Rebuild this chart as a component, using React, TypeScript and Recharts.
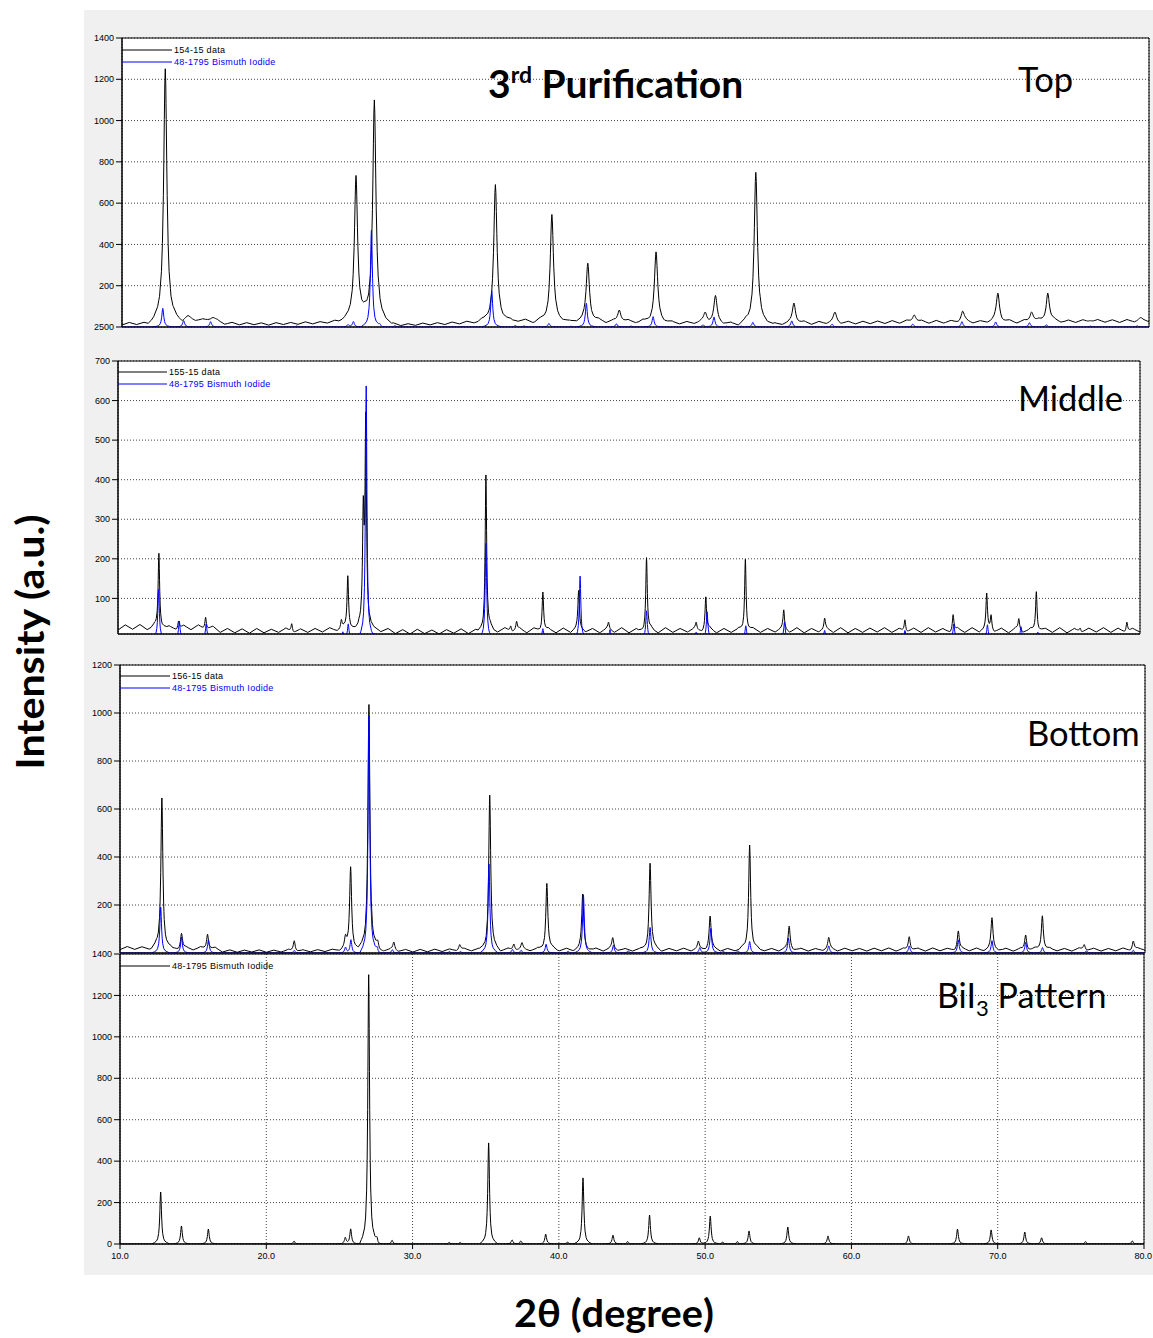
import React from "react";
import { LineChart, Line, XAxis, YAxis, CartesianGrid, ReferenceArea } from "recharts";

// Baseline counts sampled every 0.5° of 2θ, from 10.0° to 80.0° (one row = 5°)
const BASE_START = 10;
const BASE_STEP = 0.5;

const TOP_BASELINE = [
  10, 22, 12, 23, 14, 26, 18, 28, 20, 31,
  25, 36, 27, 30, 12, 22, 10, 21, 11, 20,
  9, 21, 12, 22, 13, 25, 15, 26, 19, 33,
  27, 40, 33, 44, 35, 34, 16, 20, 7, 16,
  8, 19, 10, 21, 12, 24, 15, 28, 20, 33,
  26, 36, 25, 37, 28, 38, 22, 34, 23, 33,
  21, 34, 22, 33, 24, 35, 21, 33, 22, 34,
  21, 32, 20, 31, 16, 28, 15, 27, 16, 28,
  17, 26, 12, 23, 10, 22, 11, 23, 9, 21,
  10, 22, 14, 26, 13, 27, 15, 28, 14, 27,
  15, 28, 16, 29, 17, 31, 18, 32, 19, 31,
  18, 32, 19, 31, 20, 32, 18, 31, 19, 33,
  20, 32, 19, 33, 21, 34, 20, 35, 21, 34,
  22, 35, 21, 36, 23, 35, 22, 36, 24, 38,
  25,
];

const MIDDLE_BASELINE = [
  20, 33, 22, 34, 21, 32, 24, 31, 20, 32,
  21, 33, 19, 30, 14, 24, 13, 23, 12, 24,
  13, 22, 14, 25, 12, 23, 14, 24, 15, 26,
  18, 28, 24, 32, 26, 30, 16, 24, 11, 21,
  10, 22, 11, 20, 10, 21, 12, 23, 11, 22,
  16, 27, 15, 26, 14, 25, 13, 26, 14, 24,
  13, 25, 14, 26, 15, 24, 13, 25, 14, 26,
  13, 24, 14, 25, 13, 26, 14, 24, 15, 25,
  14, 26, 13, 24, 14, 25, 13, 26, 14, 24,
  15, 25, 14, 26, 13, 24, 15, 25, 14, 26,
  13, 24, 14, 25, 15, 26, 14, 24, 13, 25,
  14, 26, 15, 24, 13, 25, 14, 26, 15, 24,
  14, 25, 13, 26, 14, 24, 15, 25, 14, 26,
  13, 24, 14, 25, 15, 26, 14, 25, 13, 24,
  15,
];

const BOTTOM_BASELINE = [
  14, 27, 15, 26, 16, 28, 13, 25, 12, 24,
  13, 25, 12, 23, 4, 13, 3, 12, 4, 13,
  3, 12, 4, 14, 3, 13, 5, 14, 6, 16,
  10, 20, 14, 22, 12, 18, 8, 17, 5, 15,
  4, 15, 5, 16, 6, 17, 8, 19, 9, 20,
  8, 19, 9, 20, 8, 19, 9, 21, 8, 20,
  9, 20, 8, 19, 9, 21, 8, 20, 9, 19,
  8, 20, 9, 21, 8, 19, 9, 20, 8, 21,
  9, 20, 8, 19, 9, 21, 8, 20, 9, 19,
  8, 21, 9, 20, 8, 19, 9, 21, 8, 20,
  9, 19, 8, 20, 9, 21, 8, 19, 9, 20,
  8, 21, 9, 20, 8, 19, 9, 21, 8, 20,
  9, 20, 8, 19, 9, 21, 8, 20, 9, 19,
  8, 21, 9, 20, 8, 19, 9, 21, 8, 20,
  12,
];

// Peaks: [2θ, peak intensity] or [2θ, peak intensity, half width]
type Peak = number[];

const TOP_PEAKS: Peak[] = [
  [12.95, 1250], [14.5, 55, 0.3], [16.2, 45, 0.25], [25.95, 734], [27.2, 1100],
  [35.45, 690], [39.3, 545], [41.75, 309], [43.9, 82], [46.4, 364],
  [49.75, 68], [50.45, 151], [53.2, 749], [55.8, 116], [58.6, 72],
  [64.0, 58], [67.3, 77], [69.7, 164], [72.0, 72], [73.1, 164],
  [76.0, 30], [79.4, 45],
];

const MIDDLE_PEAKS: Peak[] = [
  [12.8, 214], [14.15, 43], [16.0, 52], [21.9, 36], [25.3, 45],
  [25.74, 157], [26.8, 300], [26.97, 540], [35.2, 412], [36.9, 30],
  [37.3, 42], [39.1, 116], [41.55, 120], [43.6, 40], [46.2, 203],
  [49.6, 40], [50.26, 104], [52.97, 199], [55.6, 71], [58.4, 50],
  [63.9, 46], [67.2, 59], [69.5, 112], [69.8, 55], [71.7, 49],
  [72.9, 117], [75.9, 25], [79.1, 40],
];

const BOTTOM_PEAKS: Peak[] = [
  [12.86, 646], [14.2, 82], [15.98, 78], [21.9, 51], [25.4, 60],
  [25.75, 357], [27.0, 1035], [27.6, 40], [28.7, 46], [33.2, 35],
  [35.25, 658], [36.9, 37], [37.45, 43], [39.15, 290], [41.6, 246],
  [43.65, 64], [46.2, 374], [49.5, 50], [50.3, 154], [53.0, 450],
  [55.7, 112], [58.4, 65], [63.9, 68], [67.25, 92], [69.55, 147],
  [71.85, 75], [72.99, 155], [75.85, 35], [79.2, 50],
];

// 48-1795 Bismuth Iodide reference pattern
const BII3_PEAKS: Peak[] = [
  [12.78, 251], [14.2, 87], [16.04, 72], [21.9, 14], [25.4, 30],
  [25.77, 72], [27.0, 1300], [27.57, 25], [28.6, 18], [32.5, 8],
  [33.25, 8], [35.2, 488], [36.8, 20], [37.4, 15], [39.1, 48],
  [40.6, 10], [41.65, 319], [43.7, 43], [44.7, 12], [46.2, 140],
  [49.6, 30], [50.35, 135], [51.2, 10], [52.2, 12], [53.0, 63],
  [55.65, 82], [58.4, 39], [63.9, 39], [67.25, 72], [69.55, 68],
  [71.85, 58], [73.0, 30], [76.0, 12], [79.2, 15],
];

// Overlay factor of the reference pattern in each measured panel
const REF_SCALE_TOP = 0.36;
const REF_SCALE_MIDDLE = 0.49;
const REF_SCALE_BOTTOM = 0.76;

const X_TICKS = [10, 20, 30, 40, 50, 60, 70, 80];
const TOP_Y_TICKS = [0, 200, 400, 600, 800, 1000, 1200, 1400];
const MIDDLE_Y_TICKS = [100, 200, 300, 400, 500, 600, 700];
const BOTTOM_Y_TICKS = [200, 400, 600, 800, 1000, 1200];
const PATTERN_Y_TICKS = [0, 200, 400, 600, 800, 1000, 1200, 1400];

const SAMPLE_NAMES = ["154-15 data", "155-15 data", "156-15 data"];
const REFERENCE_NAME = "48-1795 Bismuth Iodide";

// ---- peak line shape (fraction of peak height vs distance in half widths)
const SHAPE_T = [0, 0.25, 0.5, 0.75, 1, 1.5, 2, 3, 4, 6, 9];
const SHAPE_F = [1, 0.94, 0.8, 0.64, 0.5, 0.31, 0.2, 0.1, 0.06, 0.027, 0];

function shapeAt(t: number) {
  const a = Math.abs(t);
  if (a >= SHAPE_T[SHAPE_T.length - 1]) return 0;
  for (let k = 0; k < SHAPE_T.length - 1; k++) {
    if (a >= SHAPE_T[k] && a < SHAPE_T[k + 1]) {
      const f = (a - SHAPE_T[k]) / (SHAPE_T[k + 1] - SHAPE_T[k]);
      return SHAPE_F[k] + f * (SHAPE_F[k + 1] - SHAPE_F[k]);
    }
  }
  return 0;
}

function baseAt(base: number[] | null, x: number) {
  if (!base) return 0;
  const i = (x - BASE_START) / BASE_STEP;
  const k = Math.max(0, Math.min(Math.floor(i), base.length - 2));
  const f = i - k;
  return base[k] + f * (base[k + 1] - base[k]);
}

function buildTrace(base: number[] | null, peaks: Peak[], halfWidth: number, scale = 1) {
  const xs = new Set<number>();
  const n = base ? base.length : 141;
  for (let i = 0; i < n; i++) xs.add(+(BASE_START + i * BASE_STEP).toFixed(3));
  peaks.forEach((p) => {
    const w = p[2] ?? halfWidth;
    SHAPE_T.forEach((t) => {
      [p[0] - t * w, p[0] + t * w].forEach((x) => {
        if (x >= 10 && x <= 80) xs.add(+x.toFixed(4));
      });
    });
  });
  const sorted = Array.from(xs).sort((a, b) => a - b);
  return sorted.map((x) => {
    let y = baseAt(base, x);
    peaks.forEach((p) => {
      const w = p[2] ?? halfWidth;
      const amp = p[1] * scale - baseAt(base, p[0]);
      y += amp * shapeAt((x - p[0]) / w);
    });
    return { x, y };
  });
}

const topBlack = buildTrace(TOP_BASELINE, TOP_PEAKS, 0.13);
const topBlue = buildTrace(null, BII3_PEAKS, 0.08, REF_SCALE_TOP);
const middleBlack = buildTrace(MIDDLE_BASELINE, MIDDLE_PEAKS, 0.06);
const middleBlue = buildTrace(null, BII3_PEAKS, 0.06, REF_SCALE_MIDDLE);
const bottomBlack = buildTrace(BOTTOM_BASELINE, BOTTOM_PEAKS, 0.08);
const bottomBlue = buildTrace(null, BII3_PEAKS, 0.07, REF_SCALE_BOTTOM);
const patternBlack = buildTrace(null, BII3_PEAKS, 0.07);

const BLACK = "#000000";
const BLUE = "#0000ff";
const SMALL_FONT = "'Liberation Sans', Arial, sans-serif";
const TITLE_FONT = "Lato, 'Open Sans', sans-serif";

type Series = { data: { x: number; y: number }[]; color: string };
type Rect = { left: number; top: number; width: number; height: number };

// x tick label; the last one is right-aligned so it stays inside the figure
function XTick(props: any) {
  const { x, y, payload } = props;
  const last = payload.value === X_TICKS[X_TICKS.length - 1];
  return (
    <text
      x={last ? x + 8 : x}
      y={y}
      dy="0.71em"
      textAnchor={last ? "end" : "middle"}
      fontSize={9}
      fill={BLACK}
      fontFamily={SMALL_FONT}
    >
      {Number(payload.value).toFixed(1)}
    </text>
  );
}

function Panel(props: {
  rect: Rect;
  yDomain: [number, number];
  yTicks: number[];
  series: Series[];
  xLabels?: boolean;
  yFormat?: (v: number) => string;
}) {
  const { rect, yDomain, yTicks, series, xLabels, yFormat } = props;
  const yW = 40;
  const mTop = 6;
  const mRight = xLabels ? 9 : 3;
  const mBottom = xLabels ? 0 : 6;
  const xH = xLabels ? 22 : 1;
  return (
    <div style={{ position: "absolute", left: rect.left - yW, top: rect.top - mTop }}>
      <LineChart
        width={yW + rect.width + mRight}
        height={mTop + rect.height + xH + mBottom}
        margin={{ top: mTop, right: mRight, bottom: mBottom, left: 0 }}
      >
        <CartesianGrid fill="#ffffff" stroke="#444" strokeDasharray="1 2" />
        <XAxis
          type="number"
          dataKey="x"
          domain={[10, 80]}
          ticks={X_TICKS}
          interval={0}
          allowDataOverflow
          height={xH}
          axisLine={{ stroke: BLACK }}
          tickLine={xLabels ? { stroke: BLACK } : false}
          tickSize={5}
          tickMargin={4}
          tick={xLabels ? <XTick /> : false}
        />
        <YAxis
          type="number"
          domain={yDomain}
          ticks={yTicks}
          interval={0}
          allowDataOverflow
          width={yW}
          axisLine={{ stroke: BLACK }}
          tickLine={{ stroke: BLACK }}
          tickSize={6}
          tickMargin={2}
          tick={{ fontSize: 9, fill: BLACK, fontFamily: SMALL_FONT }}
          tickFormatter={yFormat ?? ((v: number) => String(v))}
        />
        <ReferenceArea
          x1={10}
          x2={80}
          y1={yDomain[0]}
          y2={yDomain[1]}
          fill="none"
          stroke={BLACK}
          strokeWidth={1}
          ifOverflow="visible"
        />
        {series.map((s, i) => (
          <Line
            key={i}
            data={s.data}
            dataKey="y"
            type="linear"
            stroke={s.color}
            strokeWidth={1}
            dot={false}
            activeDot={false}
            isAnimationActive={false}
          />
        ))}
      </LineChart>
    </div>
  );
}

function LegendEntry(props: { x1: number; x2: number; y: number; color: string; label: string }) {
  const { x1, x2, y, color, label } = props;
  return (
    <g>
      <line x1={x1} x2={x2} y1={y} y2={y} stroke={color} strokeWidth={1} />
      <text
        x={x2 + 2}
        y={y + 3}
        fontSize={9}
        letterSpacing={0.3}
        fill={color}
        fontFamily={SMALL_FONT}
      >
        {label}
      </text>
    </g>
  );
}

export default function App() {
  return (
    <div
      style={{
        position: "absolute",
        left: 0,
        top: 0,
        width: 1153,
        height: 1338,
        overflow: "hidden",
        background: "#ffffff",
      }}
    >
      <div
        style={{
          position: "absolute",
          left: 84,
          top: 10,
          width: 1069,
          height: 1265,
          background: "#f0f0f0",
        }}
      />

      <Panel
        rect={{ left: 122, top: 38, width: 1027, height: 289 }}
        yDomain={[0, 1400]}
        yTicks={TOP_Y_TICKS}
        yFormat={(v: number) => (v === 0 ? "2500" : String(v))}
        series={[
          { data: topBlack, color: BLACK },
          { data: topBlue, color: BLUE },
        ]}
      />
      <Panel
        rect={{ left: 118, top: 361, width: 1022, height: 273 }}
        yDomain={[10, 700]}
        yTicks={MIDDLE_Y_TICKS}
        series={[
          { data: middleBlack, color: BLACK },
          { data: middleBlue, color: BLUE },
        ]}
      />
      <Panel
        rect={{ left: 120, top: 665, width: 1025, height: 288 }}
        yDomain={[0, 1200]}
        yTicks={BOTTOM_Y_TICKS}
        series={[
          { data: bottomBlack, color: BLACK },
          { data: bottomBlue, color: BLUE },
        ]}
      />
      <Panel
        rect={{ left: 120, top: 954, width: 1024, height: 290 }}
        yDomain={[0, 1400]}
        yTicks={PATTERN_Y_TICKS}
        xLabels
        series={[{ data: patternBlack, color: BLACK }]}
      />

      <svg
        width={1153}
        height={1338}
        style={{ position: "absolute", left: 0, top: 0, pointerEvents: "none" }}
      >
        <LegendEntry x1={122} x2={172} y={50} color={BLACK} label={SAMPLE_NAMES[0]} />
        <LegendEntry x1={122} x2={172} y={62} color={BLUE} label={REFERENCE_NAME} />
        <LegendEntry x1={118} x2={167} y={372} color={BLACK} label={SAMPLE_NAMES[1]} />
        <LegendEntry x1={118} x2={167} y={384} color={BLUE} label={REFERENCE_NAME} />
        <LegendEntry x1={120} x2={170} y={676} color={BLACK} label={SAMPLE_NAMES[2]} />
        <LegendEntry x1={120} x2={170} y={688} color={BLUE} label={REFERENCE_NAME} />
        <LegendEntry x1={120} x2={170} y={966} color={BLACK} label={REFERENCE_NAME} />

        <text x={488} y={98} fontFamily={TITLE_FONT} fontWeight={700} fontSize={39} fill={BLACK}>
          3
          <tspan fontSize={23} dy={-15}>rd</tspan>
          <tspan dy={15}> Purification</tspan>
        </text>

        <text x={1018} y={92} fontFamily={TITLE_FONT} fontSize={34.5} fill={BLACK}>Top</text>
        <text x={1018} y={411} fontFamily={TITLE_FONT} fontSize={34.5} fill={BLACK}>Middle</text>
        <text x={1027} y={746} fontFamily={TITLE_FONT} fontSize={34.5} fill={BLACK}>Bottom</text>
        <text x={937} y={1008} fontFamily={TITLE_FONT} fontSize={34} fill={BLACK}>
          BiI
          <tspan fontSize={22} dy={8}>3</tspan>
          <tspan dy={-8}> Pattern</tspan>
        </text>

        <text
          transform="translate(44, 642) rotate(-90)"
          textAnchor="middle"
          fontFamily={TITLE_FONT}
          fontWeight={700}
          fontSize={38}
          textLength={255}
          lengthAdjust="spacingAndGlyphs"
          fill={BLACK}
        >
          Intensity (a.u.)
        </text>
        <text
          x={614}
          y={1327}
          textAnchor="middle"
          fontFamily={TITLE_FONT}
          fontWeight={700}
          fontSize={38}
          textLength={200}
          lengthAdjust="spacingAndGlyphs"
          fill={BLACK}
        >
          2θ (degree)
        </text>
      </svg>
    </div>
  );
}
